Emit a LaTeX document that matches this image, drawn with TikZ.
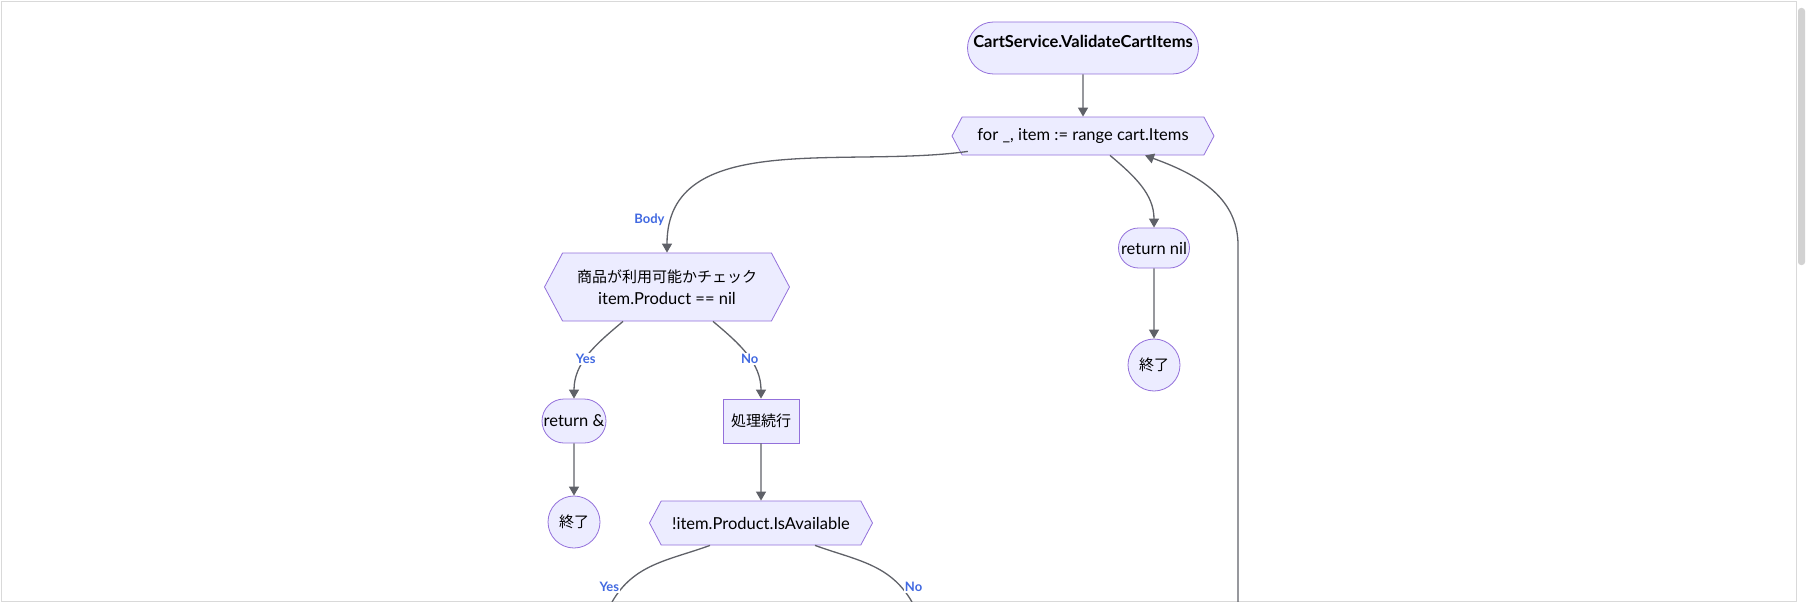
\documentclass[tikz,border=0pt]{standalone}
\usepackage{fontspec}
\setmainfont{Lato}
\newfontfamily\cjk{Noto Sans CJK JP}
\usetikzlibrary{arrows.meta,shapes.symbols,shapes.misc}

\definecolor{nodefill}{HTML}{ECECFF}
\definecolor{nodeline}{HTML}{9370DB}
\definecolor{edgeline}{HTML}{5F6168}
\definecolor{lbl}{HTML}{4169E1}

\begin{document}
\begin{tikzpicture}[x=1pt,y=-1pt,font=\fontsize{16.5}{22}\selectfont,
    box/.style={draw=nodeline,fill=nodefill,line width=0.8pt},
    term/.style={box,rounded rectangle,minimum height=40pt,inner xsep=14pt},
    proc/.style={box,rectangle,minimum height=44pt,inner xsep=8pt},
    hexa/.style={box,signal,signal to=west and east,signal pointer angle=124,inner xsep=4pt,align=center},
    stop/.style={box,circle,minimum size=52pt,inner sep=0pt},
    flow/.style={draw=edgeline,line width=1.3pt,-{Triangle[length=9pt,width=10pt]}},
    tag/.style={fill=white,text=lbl,inner sep=1pt,font=\fontsize{13}{15}\selectfont\bfseries}]
  \useasboundingbox (0,0) rectangle (1807,602);
  \draw[gray!30] (1,1) rectangle (1796,601);
  \fill[gray!35,rounded corners=3pt] (1798,8) rectangle (1805,265);

  \node[term,minimum width=259pt,minimum height=52pt,font=\fontsize{16.5}{22}\selectfont\bfseries] (start) at (1083,48) {\raisebox{13pt}{CartService.ValidateCartItems}};
  \node[hexa,minimum width=262pt,minimum height=38pt] (loop) at (1083,136) {for \_, item := range cart.Items};
  \node[hexa,minimum width=245pt,minimum height=68pt] (chk1) at (667,287) {{\cjk\fontsize{15}{22}\selectfont 商品が利用可能かチェック}\\item.Product == nil};
  \node[term,minimum width=92pt,minimum height=44pt] (ret1) at (574,421) {return \&};
  \node[proc] (cont) at (761,421) {\cjk\fontsize{15}{22}\selectfont 処理続行};
  \node[stop] (end1) at (574,522) {\cjk\fontsize{15}{22}\selectfont 終了};
  \node[hexa,minimum width=223pt,minimum height=44pt] (chk2) at (761,523) {!item.Product.IsAvailable};
  \node[term,minimum width=99pt] (ret2) at (1154,248) {return nil};
  \node[stop] (end2) at (1154,365) {\cjk\fontsize{15}{22}\selectfont 終了};
  \coordinate (c2yes) at (612,602);
  \coordinate (c2no) at (912,602);
  \coordinate (back) at (1238,602);

  \draw[flow] (loop.south west) ++(6,-4) to[out=188,in=90] node[tag,pos=0.9,left=6pt] {Body} (chk1.north);
  \draw[flow] (start) -- (loop);
  \draw[flow] ([xshift=-44pt]chk1.south) to[out=220,in=90] node[tag,pos=0.55] {Yes} (ret1.north);
  \draw[flow] ([xshift=46pt]chk1.south) to[out=-40,in=90] node[tag,pos=0.55] {No} (cont.north);
  \draw[flow] (ret1) -- (end1);
  \draw[flow] (cont) -- (chk2);
  \draw[draw=edgeline,line width=1.3pt] ([xshift=-51pt]chk2.south) to[out=200,in=60] node[tag,pos=0.85,left=2pt] {Yes} (c2yes);
  \draw[draw=edgeline,line width=1.3pt] ([xshift=54pt]chk2.south) to[out=-20,in=120] node[tag,pos=0.85,right=2pt] {No} (c2no);
  \draw[flow] ([xshift=27pt]loop.south) to[out=-40,in=90] (ret2.north);
  \draw[flow] (ret2) -- (end2);
  \draw[flow] (back) -- (1238,245) to[out=90,in=-20] ([xshift=62pt]loop.south);
\end{tikzpicture}
\end{document}
